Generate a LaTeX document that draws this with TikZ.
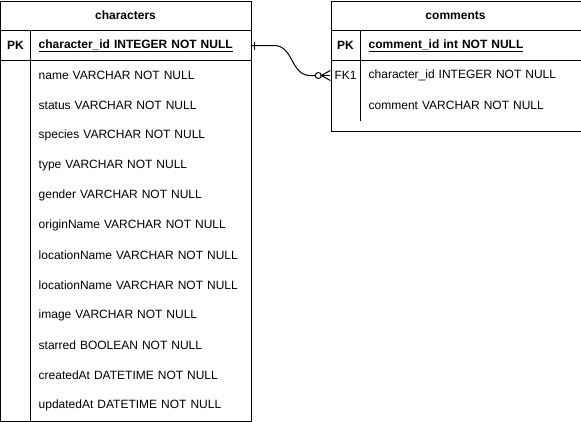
\documentclass[tikz,border=0pt]{standalone}
\usepackage{fontspec}
\setmainfont{Liberation Sans}
\usepackage{tikz}
\usetikzlibrary{positioning,calc}

\begin{document}
\begin{tikzpicture}[x=1pt,y=-1pt,
                  font=\fontsize{12}{14}\selectfont,
                  tbl/.style={draw,line width=1pt,anchor=north west,inner sep=0pt},
                  hdr/.style={minimum height=30pt,font=\fontsize{12}{14}\selectfont\bfseries},
                  key/.style={minimum width=30pt,minimum height=30pt,inner sep=0pt},
                  fld/.style={anchor=west,minimum height=30pt,text width=204pt,inner xsep=8pt,inner ysep=0pt,align=left},
                  rel/.style={line width=1pt}
                ]
                \useasboundingbox (-0.5,-0.5) rectangle (580.5,420.5);
                % characters table
                \node[tbl,minimum width=250pt,minimum height=420pt] (chars) at (0,0) {};
                \node[hdr] (charsHead) at (125,15) {characters};
                \draw[rel] (0,30) -- (250,30);
                \draw[rel] (0,60) -- (250,60);
                \draw[rel] (30,30) -- (30,420);
                \node[key,font=\fontsize{12}{14}\selectfont\bfseries] (charsPK) at (15,45) {PK};
                \node[fld] (charsId) at (30,45) {\underline{\textbf{character\_id INTEGER NOT NULL}}};
                \foreach \f [count=\i] in {name VARCHAR NOT NULL,status VARCHAR NOT NULL,species VARCHAR NOT NULL,
                    type VARCHAR NOT NULL,gender VARCHAR NOT NULL,originName VARCHAR NOT NULL,
                    locationName VARCHAR NOT NULL,locationName VARCHAR NOT NULL,image VARCHAR NOT NULL,
                    starred BOOLEAN NOT NULL,createdAt DATETIME NOT NULL,updatedAt DATETIME NOT NULL}
                  \node[fld] (charsF\i) at (30,45+30*\i) {\f};

                % comments table
                \node[tbl,minimum width=250pt,minimum height=130pt] (cmts) at (330,0) {};
                \node[hdr] (cmtsHead) at (455,15) {comments};
                \draw[rel] (330,30) -- (580,30);
                \draw[rel] (330,60) -- (580,60);
                \draw[rel] (360,30) -- (360,120);
                \node[key,font=\fontsize{12}{14}\selectfont\bfseries] (cmtsPK) at (345,45) {PK};
                \node[fld] (cmtsId) at (360,45) {\underline{\textbf{comment\_id int NOT NULL}}};
                \node[key] (cmtsFK) at (345,75) {FK1};
                \node[fld] (cmtsF1) at (360,75) {character\_id INTEGER NOT NULL};
                \node[fld] (cmtsF2) at (360,105) {comment VARCHAR NOT NULL};

                % relation: one to zero-or-many
                \draw[rel] (charsId.east) -- ++(23,0) .. controls +(20,0) and +(-20,0) .. ($(cmtsFK.west)+(-20,0)$) -- ($(cmtsFK.west)+(-15,0)$);
                \draw[rel] ($(charsId.east)+(4,-4)$) -- ($(charsId.east)+(4,4)$);
                \draw[rel] ($(cmtsFK.west)+(-12,0)$) circle[radius=3pt];
                \draw[rel] ($(cmtsFK.west)+(0,-5)$) -- ($(cmtsFK.west)+(-9,0)$) -- ($(cmtsFK.west)+(0,5)$);
                \draw[rel] ($(cmtsFK.west)+(-9,0)$) -- (cmtsFK.west);
                \end{tikzpicture}
\end{document}
